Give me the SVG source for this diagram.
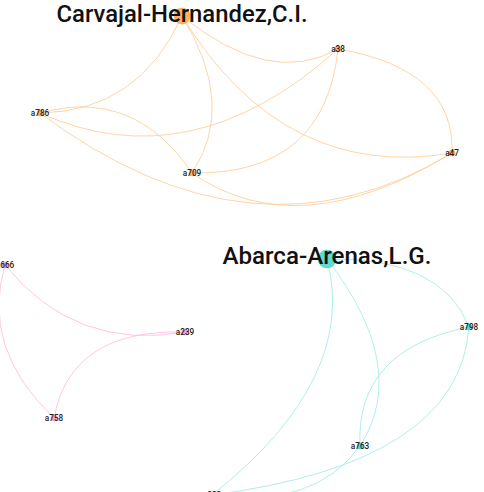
<svg xmlns="http://www.w3.org/2000/svg" width="484" height="492" viewBox="0 0 484 492">
  <style>
    .e { fill: none; stroke-width: 0.9; }
    .eo { stroke: #ffcf9c; }
    .ep { stroke: #ffc0e0; }
    .et { stroke: #a6ece6; }
    .no { fill: #ffb35c; stroke: #e69a45; stroke-width: 0.5; }
    .np { fill: #ff9fd0; stroke: #e685b8; stroke-width: 0.5; }
    .nt { fill: #5fdcd2; stroke: #3cbab0; stroke-width: 0.5; }
    .lbl { font-family: Roboto, "DejaVu Sans", sans-serif; font-size: 8.2px; font-weight: 500; fill: #222; text-anchor: middle; }
    .big { font-family: Roboto, "DejaVu Sans", sans-serif; font-size: 23px; font-weight: 500; fill: #111; text-anchor: middle; }
  </style>
  <rect width="484" height="492" fill="#ffffff"/>

  <g id="connectors">
    <!-- orange cluster -->
    <path class="e eo" d="M182,16 Q139,111.5 40,113"/>
    <path class="e eo" d="M182,16 Q270,87.5 338,49"/>
    <path class="e eo" d="M182,16 Q237,105.5 192,173"/>
    <path class="e eo" d="M182,16 Q283,181.5 452,153"/>
    <path class="e eo" d="M40,113 Q191,181 338,49"/>
    <path class="e eo" d="M40,113 Q134,87 192,173"/>
    <path class="e eo" d="M40,113 Q254,273 452,153"/>
    <path class="e eo" d="M192,173 Q298,247 452,153"/>
    <path class="e eo" d="M192,173 Q325,175 338,49"/>
    <path class="e eo" d="M338,49 Q455,69 452,153"/>
    <!-- pink cluster -->
    <path class="e ep" d="M5,265 Q75,351.5 185,332"/>
    <path class="e ep" d="M5,265 Q-19.5,348.5 54,418"/>
    <path class="e ep" d="M54,418 Q70.5,329 185,332"/>
    <!-- teal cluster -->
    <path class="e et" d="M327,259 Q442,257 469,327"/>
    <path class="e et" d="M327,259 Q358.5,379 212,495"/>
    <path class="e et" d="M327,259 Q410.5,367.5 360,446"/>
    <path class="e et" d="M469,327 Q355.5,349.5 360,446"/>
    <path class="e et" d="M469,327 Q459.5,463 212,495"/>
    <path class="e et" d="M360,446 Q314,509.5 212,495"/>
  </g>

  <g id="a786"><circle class="no" cx="40" cy="113" r="3"/><text class="lbl" x="40" y="116">a786</text></g>
  <g id="a709"><circle class="no" cx="192" cy="173" r="3"/><text class="lbl" x="192" y="176">a709</text></g>
  <g id="a38"><circle class="no" cx="338" cy="49" r="3"/><text class="lbl" x="338" y="52">a38</text></g>
  <g id="a47"><circle class="no" cx="452" cy="153" r="3"/><text class="lbl" x="452" y="156">a47</text></g>
  <g id="carvajal"><circle class="no" cx="182" cy="16" r="8"/><text class="big" x="182" y="22" textLength="251" lengthAdjust="spacingAndGlyphs">Carvajal-Hernandez,C.I.</text></g>

  <g id="a666"><circle class="np" cx="5" cy="265" r="3"/><text class="lbl" x="5" y="268">a666</text></g>
  <g id="a239"><circle class="np" cx="185" cy="332" r="3"/><text class="lbl" x="185" y="335">a239</text></g>
  <g id="a758"><circle class="np" cx="54" cy="418" r="3"/><text class="lbl" x="54" y="421">a758</text></g>

  <g id="a798"><circle class="nt" cx="469" cy="327" r="3"/><text class="lbl" x="469" y="330">a798</text></g>
  <g id="a763"><circle class="nt" cx="360" cy="446" r="3"/><text class="lbl" x="360" y="449">a763</text></g>
  <g id="a823"><circle class="nt" cx="212" cy="495" r="3"/><text class="lbl" x="212" y="498">a823</text></g>
  <g id="abarca"><circle class="nt" cx="327" cy="259" r="9"/><text class="big" x="327" y="264" textLength="209" lengthAdjust="spacingAndGlyphs">Abarca-Arenas,L.G.</text></g>
</svg>
